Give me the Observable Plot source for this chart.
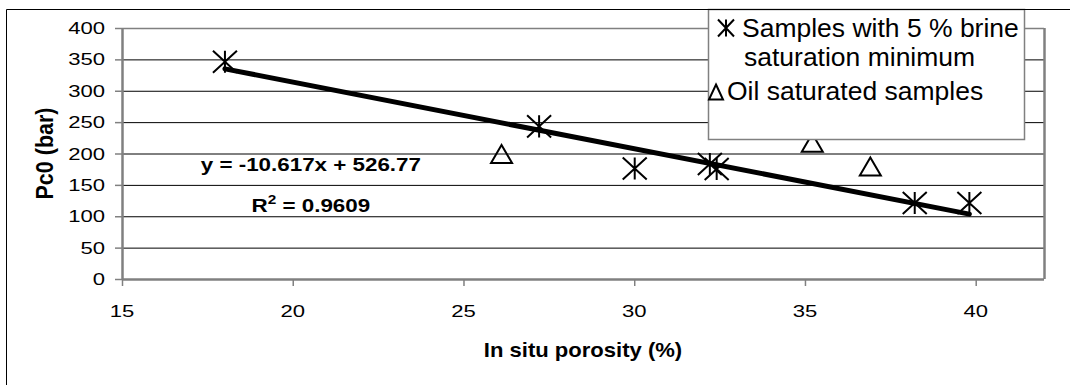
<!DOCTYPE html>
<html><head><meta charset="utf-8">
<script src="https://cdn.jsdelivr.net/npm/d3@7"></script>
<script src="https://cdn.jsdelivr.net/npm/@observablehq/plot@0.6"></script>
<style>
html,body{margin:0;padding:0;background:#fff;}
#chart{width:1070px;height:385px;overflow:hidden;position:relative}
#chart svg{display:block}
</style></head><body><div id="chart"></div>
<script>
// ---- data ----
const brinePorosity = [18.0, 27.2, 30.0, 32.2, 32.4, 38.2, 39.8];
const brinePc0      = [347, 244, 177, 184, 176, 122, 122];
const oilPorosity   = [26.1, 35.2, 36.9];
const oilPc0        = [200, 218, 180];
const trendPorosity = [18.0, 39.8];
const trendPc0      = [335.7, 104.2];
const xTicks = [15, 20, 25, 30, 35, 40];
const yTicks = [0, 50, 100, 150, 200, 250, 300, 350, 400];
const gridValues = [50, 100, 150, 200, 250, 300, 350];
const seriesNames = ["Samples with 5 % brine", "saturation minimum", "Oil saturated samples"];
const equationText = "y = -10.617x + 526.77";
const r2Value = "0.9609";
const xTitle = "In situ porosity (%)";
const yTitle = "Pc0 (bar)";

const FONT = "'Liberation Sans', Arial, sans-serif";
const GRAY = "#808080";

const brine = brinePorosity.map((x, i) => ({x, y: brinePc0[i]}));
const oil = oilPorosity.map((x, i) => ({x, y: oilPc0[i]}));
const trend = trendPorosity.map((x, i) => ({x, y: trendPc0[i]}));

// custom symbols (Excel-style asterisk = X plus vertical bar, hollow triangle)
const asterisk = {draw(ctx, size) {
  const r = Math.sqrt(size / Math.PI), h = r * 0.92;
  ctx.moveTo(-r, -h); ctx.lineTo(r, h);
  ctx.moveTo(r, -h); ctx.lineTo(-r, h);
  ctx.moveTo(0, -h); ctx.lineTo(0, h);
}};
const triangle = {draw(ctx, size) {
  const r = Math.sqrt(size / Math.PI), h = r * 0.86;
  ctx.moveTo(0, -h); ctx.lineTo(r, h); ctx.lineTo(-r, h); ctx.closePath();
}};

const chart = Plot.plot({
  width: 1070, height: 385,
  marginLeft: 122, marginRight: 26, marginTop: 28, marginBottom: 106,
  style: {fontFamily: FONT, background: "white", color: "black", overflow: "visible"},
  x: {domain: [15, 42]},
  y: {domain: [0, 400]},
  marks: [
    Plot.gridY(gridValues, {stroke: "black", strokeOpacity: 1, strokeWidth: 1}),
    Plot.ruleY([400], {stroke: GRAY, strokeWidth: 1.5}),
    Plot.ruleX([42], {stroke: GRAY, strokeWidth: 2.5}),
    Plot.ruleY([0], {stroke: GRAY, strokeWidth: 2.5}),
    Plot.ruleX([15], {stroke: GRAY, strokeWidth: 2.5}),
    Plot.axisY(yTicks, {anchor: "left", tickSize: 7, tickPadding: 10, stroke: GRAY, strokeWidth: 1.5, fill: "black", fontSize: 17, label: null}),
    Plot.axisX(xTicks, {anchor: "bottom", tickSize: 7, tickPadding: 19, stroke: GRAY, strokeWidth: 1.5, fill: "black", fontSize: 17, label: null}),
    Plot.line(trend, {x: "x", y: "y", stroke: "black", strokeWidth: 5}),
    Plot.dot(oil, {x: "x", y: "y", symbol: triangle, r: 10.5, fill: "none", stroke: "black", strokeWidth: 2}),
    Plot.dot(brine, {x: "x", y: "y", symbol: asterisk, r: 12, fill: "none", stroke: "black", strokeWidth: 2})
  ]
});
document.getElementById("chart").appendChild(chart);

const svg = d3.select(chart);
const sx = chart.scale("x"), sy = chart.scale("y");

// place an axis tick label (already drawn by Plot) at a root-svg point, stretched horizontally
function placeLabel(el, X, Y, s, anchor) {
  const inv = el.parentNode.getCTM().inverse();
  const lx = inv.a * X + inv.c * Y + inv.e, ly = inv.b * X + inv.d * Y + inv.f;
  el.removeAttribute("x"); el.removeAttribute("y"); el.removeAttribute("dy"); el.removeAttribute("dx");
  el.querySelectorAll("tspan").forEach(t => { t.removeAttribute("dy"); t.removeAttribute("x"); });
  el.setAttribute("font-size", 17);
  el.style.fontSize = "17px";
  el.setAttribute("text-anchor", anchor);
  el.setAttribute("transform", `translate(${lx},${ly}) scale(${s},1)`);
}
svg.selectAll("g[aria-label='y-axis tick label'] text").each(function() {
  const v = +this.textContent;
  placeLabel(this, 105, sy.apply(v) + 6, 1.3, "end");
});
svg.selectAll("g[aria-label='x-axis tick label'] text").each(function() {
  const v = +this.textContent;
  placeLabel(this, sx.apply(v), 317, 1.3, "middle");
});

const ann = svg.append("g").attr("font-family", FONT).attr("fill", "black");

// regression equation
const eqX = sx.apply(20.53);
ann.append("text").attr("text-anchor", "middle").attr("font-weight", "bold").attr("font-size", 17.5)
  .attr("transform", `translate(${eqX},${sy.apply(172.6)}) scale(1.28,1)`).text(equationText);
const r2 = ann.append("text").attr("text-anchor", "middle").attr("font-weight", "bold").attr("font-size", 17.5)
  .attr("transform", `translate(${eqX},${sy.apply(107)}) scale(1.28,1)`);
r2.append("tspan").text("R");
r2.append("tspan").attr("font-size", 12).attr("dy", -8).text("2");
r2.append("tspan").attr("dy", 8).text(" = " + r2Value);

// axis titles
ann.append("text").attr("text-anchor", "middle").attr("font-weight", "bold").attr("font-size", 21)
  .attr("transform", `translate(${(sx.apply(15) + sx.apply(42)) / 2},357) scale(1.05,1)`).text(xTitle);
ann.append("text").attr("text-anchor", "middle").attr("font-weight", "bold").attr("font-size", 21.5)
  .attr("transform", `translate(53,${(sy.apply(0) + sy.apply(400)) / 2}) scale(1.12,1) rotate(-90)`).text(yTitle);

// legend
const lg = svg.append("g").attr("font-family", FONT);
lg.append("rect").attr("x", 708.5).attr("y", 9.5).attr("width", 316).attr("height", 130)
  .attr("fill", "white").attr("stroke", GRAY).attr("stroke-width", 1.5);
lg.append("path").attr("transform", "translate(726,28)")
  .attr("d", "M-8,-8.5L8,8.5M8,-8.5L-8,8.5M0,-8.5L0,8.5").attr("stroke", "black").attr("stroke-width", 2).attr("fill", "none");
lg.append("path").attr("transform", "translate(716,92)")
  .attr("d", "M0,-7.5L7,7.5L-7,7.5Z").attr("stroke", "black").attr("stroke-width", 2).attr("fill", "none");
[[742, 37, seriesNames[0]], [744, 66, seriesNames[1]], [727, 100, seriesNames[2]]].forEach(([x, y, t]) => {
  lg.append("text").attr("font-size", 25).attr("fill", "black").attr("text-anchor", "start")
    .attr("transform", `translate(${x},${y}) scale(1.06,1)`).text(t);
});

// outer chart-area frame (only top and left edges are visible in the reference)
svg.append("path").attr("d", "M6.5,385V9.5H1070").attr("fill", "none").attr("stroke", "black").attr("stroke-width", 1);
</script></body></html>
